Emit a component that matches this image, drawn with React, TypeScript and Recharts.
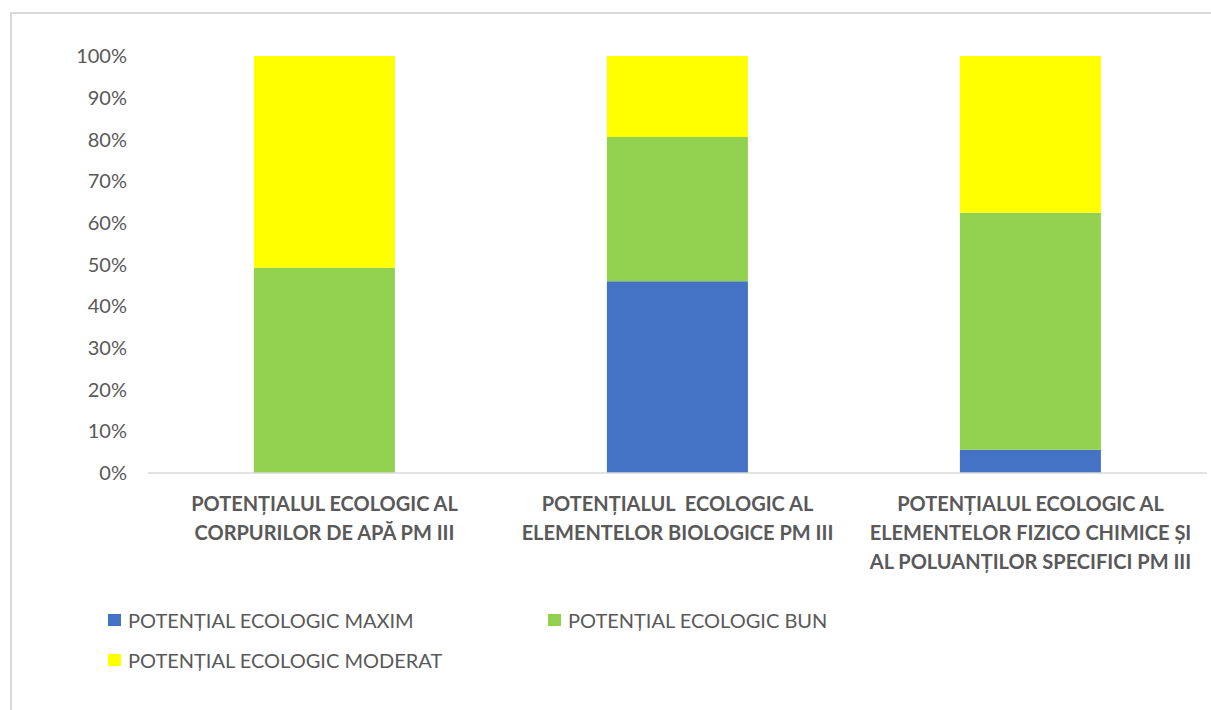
import React from "react";
import { BarChart, Bar, XAxis, YAxis } from "recharts";

const CATEGORIES = [
  ["POTENȚIALUL ECOLOGIC AL", "CORPURILOR DE APĂ PM III"],
  ["POTENȚIALUL  ECOLOGIC AL", "ELEMENTELOR BIOLOGICE PM III"],
  ["POTENȚIALUL ECOLOGIC AL", "ELEMENTELOR FIZICO CHIMICE ȘI", "AL POLUANȚILOR SPECIFICI PM III"],
];

const MAXIM = [0, 46.0, 5.6];
const BUN = [49.2, 34.6, 56.8];
const MODERAT = [50.8, 19.4, 37.6];

const Y_TICKS = [0, 0.1, 0.2, 0.3, 0.4, 0.5, 0.6, 0.7, 0.8, 0.9, 1];

const SERIES = [
  { key: "maxim", name: "POTENȚIAL ECOLOGIC MAXIM", color: "#4472c4", values: MAXIM },
  { key: "bun", name: "POTENȚIAL ECOLOGIC BUN", color: "#92d050", values: BUN },
  { key: "moderat", name: "POTENȚIAL ECOLOGIC MODERAT", color: "#ffff00", values: MODERAT },
];

const data = CATEGORIES.map((lines, i) => {
  const row: Record<string, any> = { name: lines.join(" "), idx: i };
  SERIES.forEach((s) => (row[s.key] = s.values[i]));
  return row;
});

const FONT = "Lato, 'Open Sans', sans-serif";
const TEXT = "#595959";

function CategoryTick(props: any) {
  const { x, y, payload } = props;
  const lines = CATEGORIES[payload.index] || [];
  return (
    <text
      x={x}
      y={y}
      textAnchor="middle"
      fill={TEXT}
      fontFamily={FONT}
      fontSize={20}
      fontWeight={700}
      style={{ whiteSpace: "pre" }}
    >
      {lines.map((l, i) => (
        <tspan key={i} x={x} y={y + 38 + i * 29}>
          {l}
        </tspan>
      ))}
    </text>
  );
}

export default function App() {
  return (
    <div
      style={{
        position: "absolute",
        left: 0,
        top: 0,
        width: 1211,
        height: 710,
        overflow: "hidden",
        background: "#fff",
      }}
    >
      <div
        style={{
          position: "absolute",
          left: 10,
          top: 12,
          width: 1300,
          height: 800,
          borderLeft: "2px solid #d9d9d9",
          borderTop: "2px solid #d9d9d9",
        }}
      />
      <div style={{ position: "absolute", left: 0, top: 0 }}>
        <BarChart
          width={1211}
          height={710}
          data={data}
          stackOffset="expand"
          barCategoryGap="30%"
          margin={{ top: 56, right: 4, bottom: 177, left: 0 }}
        >
          <XAxis
            dataKey="name"
            height={60}
            interval={0}
            tickLine={false}
            tickSize={0}
            tickMargin={0}
            axisLine={{ stroke: "#d9d9d9", strokeWidth: 1.5 }}
            tick={<CategoryTick />}
          />
          <YAxis
            width={148}
            domain={[0, 1]}
            ticks={Y_TICKS}
            tickFormatter={(v: number) => `${Math.round(v * 100)}%`}
            axisLine={false}
            tickLine={false}
            tickSize={0}
            tickMargin={21}
            tick={{ fill: TEXT, fontSize: 20, fontFamily: FONT }}
          />
          {SERIES.map((s) => (
            <Bar
              key={s.key}
              dataKey={s.key}
              name={s.name}
              stackId="a"
              fill={s.color}
              isAnimationActive={false}
            />
          ))}
        </BarChart>
      </div>
      <div
        style={{
          position: "absolute",
          left: 108,
          top: 600,
          display: "grid",
          gridTemplateColumns: "440px 440px",
          gridAutoRows: "40px",
          fontFamily: FONT,
          fontSize: 20,
          color: TEXT,
        }}
      >
        {SERIES.map((s) => (
          <div key={s.key} style={{ display: "flex", alignItems: "center" }}>
            <span
              style={{
                display: "inline-block",
                width: 13,
                height: 12,
                background: s.color,
                marginRight: 7,
              }}
            />
            <span>{s.name}</span>
          </div>
        ))}
      </div>
    </div>
  );
}
